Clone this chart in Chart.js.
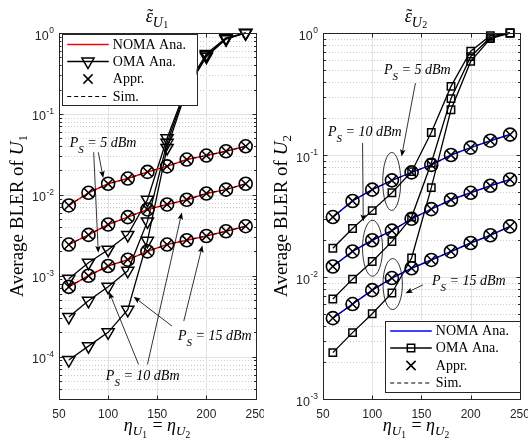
<!DOCTYPE html>
<html lang="en">
<head>
<meta charset="utf-8">
<script src="https://cdn.jsdelivr.net/npm/chart.js"></script>
<title>Average BLER</title>
<style>
  body { margin: 0; background: #fff; }
  #wrap { position: relative; width: 528px; height: 444px; }
  canvas { position: absolute; top: 0; }
</style>
</head>
<body>
<div id="wrap">
  <canvas id="blerU1" width="264" height="444" style="left:0"></canvas>
  <canvas id="blerU2" width="264" height="444" style="left:264px"></canvas>
</div>
<script>
// eta_U1 = eta_U2 (x axis)
const eta = [60, 80, 100, 120, 140, 160, 180, 200, 220, 240];
const xTicks = [50, 100, 150, 200, 250];

// U1 panel, P_S = 5 / 10 / 15 dBm
const nomaU1_5 = [7.4e-3, 1.06e-2, 1.37e-2, 1.59e-2, 1.92e-2, 2.25e-2, 2.73e-2, 3.06e-2, 3.46e-2, 3.98e-2];
const nomaU1_10 = [2.43e-3, 3.2e-3, 4.3e-3, 5.3e-3, 6.6e-3, 7.6e-3, 8.7e-3, 1.04e-2, 1.16e-2, 1.37e-2];
const nomaU1_15 = [7.3e-4, 1.0e-3, 1.32e-3, 1.58e-3, 2.0e-3, 2.43e-3, 2.75e-3, 3.1e-3, 3.55e-3, 4.1e-3];
const omaU1_5 = [9.2e-4, 1.45e-3, 2.1e-3, 3.2e-3, 8.7e-3, 0.05, 0.22, 0.55, 0.87, 1.0];
const omaU1_10 = [3.1e-4, 4.9e-4, 7.3e-4, 1.15e-3, 4.7e-3, 0.044, 0.21, 0.53, 0.85, 1.0];
const omaU1_15 = [9.1e-5, 1.35e-4, 2.0e-4, 3.8e-4, 2.7e-3, 0.038, 0.2, 0.51, 0.84, 1.0];

// U2 panel
const nomaU2_5 = [0.031, 0.042, 0.052, 0.062, 0.072, 0.083, 0.1, 0.115, 0.131, 0.147];
const nomaU2_10 = [0.0122, 0.0162, 0.020, 0.024, 0.030, 0.036, 0.043, 0.049, 0.056, 0.063];
const nomaU2_15 = [4.6e-3, 6.0e-3, 7.8e-3, 9.8e-3, 0.0118, 0.0138, 0.0162, 0.019, 0.022, 0.026];
const omaU2_5 = [0.0172, 0.025, 0.035, 0.049, 0.073, 0.153, 0.365, 0.71, 0.95, 1.0];
const omaU2_10 = [6.6e-3, 9.6e-3, 0.0134, 0.0195, 0.031, 0.086, 0.29, 0.64, 0.92, 1.0];
const omaU2_15 = [2.4e-3, 3.5e-3, 5.0e-3, 7.4e-3, 0.0143, 0.054, 0.235, 0.585, 0.9, 1.0];

const yTicksU1 = [1, 1e-1, 1e-2, 1e-3, 1e-4];
const yTicksU2 = [1, 1e-1, 1e-2, 1e-3];
const legendLabels = ['NOMA Ana.', 'OMA Ana.', 'Appr.', 'Sim.'];

// annotations (in data coordinates)
const notesU1 = [
  { dbm: 5, at: [61, 0.0394] },
  { dbm: 15, at: [171, 1.6e-4] },
  { dbm: 10, at: [97.7, 5.14e-5] }
];
const arrowsU1 = [
  { from: [90, 0.0336], to: [95, 0.0162] },
  { from: [85.3, 0.0336], to: [90, 1.92e-3] },
  { from: [177, 2.75e-4], to: [196, 2.37e-3] },
  { from: [165, 2.39e-4], to: [126, 5.5e-4] },
  { from: [131, 8.0e-5], to: [101, 6.3e-4] },
  { from: [140, 8.0e-5], to: [175, 6.05e-3] }
];
const notesU2 = [
  { dbm: 5, at: [112, 0.463] },
  { dbm: 10, at: [55, 0.1437] },
  { dbm: 15, at: [160.6, 8.61e-3] }
];
const arrowsU2 = [
  { from: [143.9, 0.389], to: [129.8, 0.0973] },
  { from: [90.2, 0.1253], to: [90.9, 0.0285] },
  { from: [151.5, 8.61e-3], to: [133.8, 7.36e-3] }
];
const ellipsesU2 = [
  { at: [119.8, 0.0607], rx: 9, ry: 29 },
  { at: [100.3, 0.0172], rx: 10, ry: 28 },
  { at: [120.8, 8.75e-3], rx: 9.7, ry: 25.5 }
];

const SERIF = '"Liberation Serif", "Times New Roman", serif';
const SANS = '"Liberation Sans", Arial, sans-serif';

const pts = ys => eta.map((x, i) => ({ x: x, y: ys[i] }));

// draws a list of text runs (font / offsets) starting at x
function rich(ctx, parts, x, y, align) {
  let w = 0;
  parts.forEach(p => {
    ctx.font = p.f;
    p.w = ctx.measureText(p.t).width;
    if (!p.over) w += p.w + (p.dx || 0);
  });
  let cx = align === 'center' ? x - w / 2 : align === 'right' ? x - w : x;
  let prev = null;
  parts.forEach(p => {
    ctx.font = p.f;
    if (p.over && prev) {
      ctx.fillText(p.t, prev.x + prev.w / 2 - p.w / 2 + (p.dx || 0), y + (p.dy || 0));
      return;
    }
    cx += p.dx || 0;
    ctx.fillText(p.t, cx, y + (p.dy || 0));
    prev = { x: cx, w: p.w };
    cx += p.w;
  });
}

const psLabel = dbm => [
  { t: 'P', f: `italic 14px ${SERIF}` },
  { t: 'S', f: `italic 11px ${SERIF}`, dy: 6 },
  { t: ' = ' + dbm + ' dBm', f: `italic 14px ${SERIF}` }
];

function arrow(ctx, p0, p1) {
  const ang = Math.atan2(p1[1] - p0[1], p1[0] - p0[0]);
  const L = 7, W = 2.8;
  const c = Math.cos(ang), s = Math.sin(ang);
  const bx = p1[0] - L * c, by = p1[1] - L * s;
  ctx.beginPath();
  ctx.moveTo(p0[0], p0[1]);
  ctx.lineTo(p1[0] - 5 * c, p1[1] - 5 * s);
  ctx.stroke();
  ctx.beginPath();
  ctx.moveTo(p1[0], p1[1]);
  ctx.lineTo(bx + W * s, by - W * c);
  ctx.lineTo(p1[0] - 0.8 * L * c, p1[1] - 0.8 * L * s);
  ctx.lineTo(bx - W * s, by + W * c);
  ctx.closePath();
  ctx.fill();
}

function makeFrame(cfg) {
  return {
    id: 'frame',
    beforeDatasetsDraw(chart) {
      const { ctx, chartArea: a, scales: { x, y } } = chart;
      ctx.save();
      ctx.lineWidth = 1;
      // minor grid (dotted)
      ctx.strokeStyle = '#cccccc';
      ctx.setLineDash([1, 2]);
      for (let e = -5; e < 0; e++) {
        for (let m = 2; m <= 9; m++) {
          const v = m * Math.pow(10, e);
          if (v <= y.min || v >= y.max) continue;
          const py = Math.round(y.getPixelForValue(v)) + 0.5;
          ctx.beginPath(); ctx.moveTo(a.left, py); ctx.lineTo(a.right, py); ctx.stroke();
        }
      }
      ctx.setLineDash([]);
      ctx.strokeStyle = '#e2e2e2';
      cfg.yTicks.forEach(v => {
        const py = Math.round(y.getPixelForValue(v)) + 0.5;
        ctx.beginPath(); ctx.moveTo(a.left, py); ctx.lineTo(a.right, py); ctx.stroke();
      });
      xTicks.forEach(v => {
        const px = Math.round(x.getPixelForValue(v)) + 0.5;
        ctx.beginPath(); ctx.moveTo(px, a.top); ctx.lineTo(px, a.bottom); ctx.stroke();
      });
      ctx.restore();
    },
    afterDatasetsDraw(chart) {
      const { ctx, chartArea: a, scales: { x, y } } = chart;
      ctx.save();
      const L = Math.round(a.left) + 0.5, R = Math.round(a.right) + 0.5;
      const T = Math.round(a.top) + 0.5, B = Math.round(a.bottom) + 0.5;

      // annotations
      ctx.fillStyle = '#000';
      ctx.strokeStyle = '#000';
      ctx.lineWidth = 0.8;
      const P = d => [x.getPixelForValue(d[0]), y.getPixelForValue(d[1])];
      cfg.arrows.forEach(r => arrow(ctx, P(r.from), P(r.to)));
      cfg.ellipses.forEach(e => {
        const c = P(e.at);
        ctx.beginPath(); ctx.ellipse(c[0], c[1], e.rx, e.ry, 0, 0, 2 * Math.PI); ctx.stroke();
      });
      ctx.textBaseline = 'alphabetic';
      cfg.notes.forEach(n => {
        const p = P(n.at);
        rich(ctx, psLabel(n.dbm), p[0], p[1], 'left');
      });

      // box + ticks
      ctx.strokeStyle = '#262626';
      ctx.lineWidth = 1;
      ctx.strokeRect(L, T, R - L, B - T);
      ctx.beginPath();
      xTicks.forEach(v => {
        const px = Math.round(x.getPixelForValue(v)) + 0.5;
        ctx.moveTo(px, B); ctx.lineTo(px, B - 4);
        ctx.moveTo(px, T); ctx.lineTo(px, T + 4);
      });
      for (let e = -5; e <= 0; e++) {
        for (let m = 1; m <= 9; m++) {
          const v = m * Math.pow(10, e);
          if (v < y.min || v > y.max) continue;
          const py = Math.round(y.getPixelForValue(v)) + 0.5;
          const len = m === 1 ? 4 : 2.5;
          ctx.moveTo(L, py); ctx.lineTo(L + len, py);
          ctx.moveTo(R, py); ctx.lineTo(R - len, py);
        }
      }
      ctx.stroke();

      // tick labels
      ctx.fillStyle = '#262626';
      ctx.textAlign = 'center';
      ctx.font = `12px ${SANS}`;
      xTicks.forEach(v => ctx.fillText(String(v), x.getPixelForValue(v), a.bottom + 18.5));
      ctx.textAlign = 'left';
      cfg.yTicks.forEach(v => {
        const py = y.getPixelForValue(v);
        const ex = Math.round(Math.log10(v));
        rich(ctx, [
          { t: '10', f: `12.5px ${SANS}`, dy: 6.5 },
          { t: String(ex).replace('-', '-'), f: `8.5px ${SANS}`, dx: 0.5 }
        ], a.left - 5, py, 'right');
      });

      // titles and axis labels
      ctx.fillStyle = '#000';
      const cx = cfg.titleX;
      rich(ctx, [
        { t: 'ε', f: `italic 18px ${SERIF}` },
        { t: '˜', f: `18px ${SERIF}`, over: true, dx: 1 },
        { t: 'U', f: `italic 14px ${SERIF}`, dy: 5 },
        { t: cfg.user, f: `10px ${SERIF}`, dy: 6.5, dx: 0.5 }
      ], cx, 21.7, 'center');
      rich(ctx, [
        { t: 'η', f: `italic 18px ${SERIF}` },
        { t: 'U', f: `italic 13px ${SERIF}`, dy: 4 },
        { t: '1', f: `9.5px ${SERIF}`, dy: 6.5 },
        { t: ' = ', f: `18px ${SERIF}`, dx: 1 },
        { t: 'η', f: `italic 18px ${SERIF}` },
        { t: 'U', f: `italic 13px ${SERIF}`, dy: 4 },
        { t: '2', f: `9.5px ${SERIF}`, dy: 6.5 }
      ], cx, 431, 'center');
      ctx.save();
      ctx.translate(23, 216);
      ctx.rotate(-Math.PI / 2);
      rich(ctx, [
        { t: 'Average BLER of ', f: `19px ${SERIF}` },
        { t: 'U', f: `italic 19px ${SERIF}` },
        { t: cfg.user, f: `13px ${SERIF}`, dy: 4 }
      ], 0, 0, 'center');
      ctx.restore();

      // legend
      const lg = cfg.legend;
      const bx = cfg.legendRight ? R - lg.w - 1 : L + 2;
      const by = cfg.legendRight ? B - lg.h - 8 : T + 0.5;
      ctx.fillStyle = '#fff';
      ctx.fillRect(bx, by, lg.w, lg.h);
      ctx.strokeStyle = '#262626';
      ctx.lineWidth = 1;
      ctx.strokeRect(Math.round(bx) + 0.5, Math.round(by) + 0.5, lg.w, lg.h);
      const rows = [10.5, 27.5, 45, 62.5];
      const x0 = bx + 5.7, x1 = bx + 47.3, xm = (x0 + x1) / 2;
      ctx.lineWidth = 1.5;
      ctx.strokeStyle = cfg.color;
      ctx.beginPath(); ctx.moveTo(x0, by + rows[0]); ctx.lineTo(x1, by + rows[0]); ctx.stroke();
      ctx.strokeStyle = '#000';
      ctx.beginPath(); ctx.moveTo(x0, by + rows[1]); ctx.lineTo(x1, by + rows[1]); ctx.stroke();
      ctx.fillStyle = 'rgba(0,0,0,0)';
      Chart.helpers.drawPoint(ctx, { pointStyle: cfg.marker, rotation: cfg.markerRot, radius: cfg.markerR, borderWidth: 1.5 }, xm, by + rows[1]);
      ctx.lineWidth = 1.5;
      Chart.helpers.drawPoint(ctx, { pointStyle: 'crossRot', rotation: 0, radius: 6.5, borderWidth: 1.5 }, xm, by + rows[2]);
      ctx.lineWidth = 1.2;
      ctx.setLineDash([4, 3]);
      ctx.beginPath(); ctx.moveTo(x0, by + rows[3]); ctx.lineTo(x1, by + rows[3]); ctx.stroke();
      ctx.setLineDash([]);
      ctx.fillStyle = '#000';
      ctx.font = `14px ${SERIF}`;
      ctx.textBaseline = 'middle';
      legendLabels.forEach((t, i) => ctx.fillText(t, bx + 51.3, by + rows[i] + 0.5));
      ctx.restore();
    }
  };
}

function makeChart(id, cfg) {
  const datasets = [];
  cfg.noma.forEach(ys => {
    datasets.push({ label: 'Appr.', data: pts(ys), showLine: false, pointStyle: 'crossRot', pointRadius: 6.5,
      pointBorderWidth: 1.5, pointBorderColor: '#000', borderColor: '#000', clip: false, order: 0 });
    datasets.push({ label: 'Sim.', data: pts(ys), borderColor: '#000', borderWidth: 1, borderDash: [4, 3],
      pointStyle: 'circle', pointRadius: 6.5, pointBorderWidth: 1.6, pointBorderColor: '#000',
      pointBackgroundColor: 'rgba(0,0,0,0)', clip: false, order: 1 });
    datasets.push({ label: 'NOMA Ana.', data: pts(ys), borderColor: cfg.color, borderWidth: 1.5, pointRadius: 0,
      clip: false, order: 2 });
  });
  cfg.oma.forEach(ys => {
    datasets.push({ label: 'OMA Ana.', data: pts(ys), borderColor: '#000', borderWidth: 1.3,
      pointStyle: cfg.marker, pointRotation: cfg.markerRot, pointRadius: cfg.markerR, pointBorderWidth: 1.5,
      pointBorderColor: '#000', pointBackgroundColor: 'rgba(0,0,0,0)', clip: false, order: 3 });
  });
  return new Chart(document.getElementById(id), {
    type: 'line',
    data: { datasets: datasets },
    options: {
      responsive: false,
      animation: false,
      devicePixelRatio: 1,
      events: [],
      layout: { padding: cfg.pad },
      elements: { line: { tension: 0 } },
      plugins: { legend: { display: false }, tooltip: { enabled: false } },
      scales: {
        x: { type: 'linear', min: 50, max: 250, display: false },
        y: { type: 'logarithmic', min: cfg.yMin, max: 1, display: false }
      }
    },
    plugins: [makeFrame(cfg)]
  });
}

makeChart('blerU1', {
  noma: [nomaU1_5, nomaU1_10, nomaU1_15],
  oma: [omaU1_5, omaU1_10, omaU1_15],
  color: '#ff0000', marker: 'triangle', markerRot: 180, markerR: 7,
  yMin: 3e-5, yTicks: yTicksU1, user: '1', titleX: 157,
  pad: { left: 59, right: 5, top: 33, bottom: 45 },
  legend: { w: 135, h: 71 }, legendRight: false,
  notes: notesU1, arrows: arrowsU1, ellipses: []
});

makeChart('blerU2', {
  noma: [nomaU2_5, nomaU2_10, nomaU2_15],
  oma: [omaU2_5, omaU2_10, omaU2_15],
  color: '#0000ff', marker: 'rect', markerRot: 0, markerR: 5.2,
  yMin: 1e-3, yTicks: yTicksU2, user: '2', titleX: 152,
  pad: { left: 59, right: 6, top: 33, bottom: 45 },
  legend: { w: 135, h: 71 }, legendRight: true,
  notes: notesU2, arrows: arrowsU2, ellipses: ellipsesU2
});
</script>
</body>
</html>
